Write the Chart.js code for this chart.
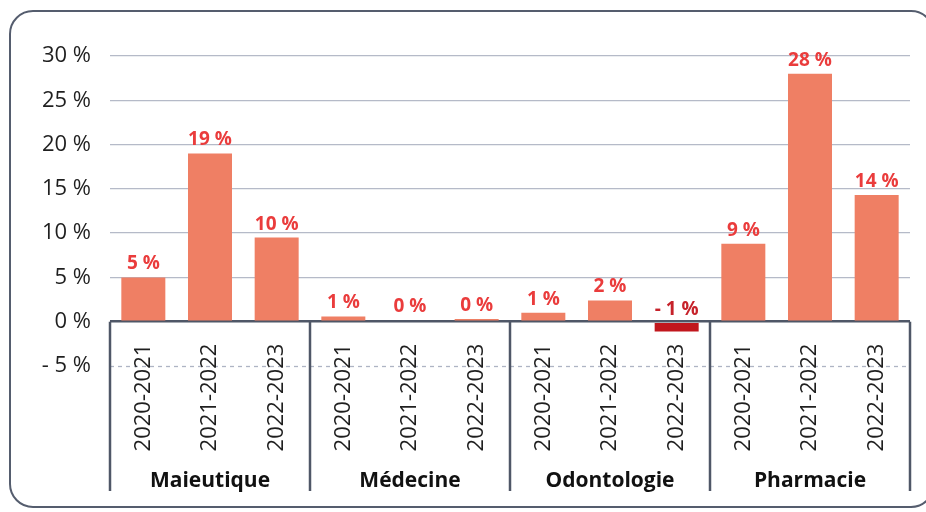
<!DOCTYPE html>
<html>
<head>
<meta charset="utf-8">
<script src="https://cdn.jsdelivr.net/npm/chart.js@4/dist/chart.umd.min.js"></script>
<style>
html, body { margin: 0; padding: 0; background: #fff; }
#wrap { position: relative; width: 926px; height: 512px; overflow: hidden; }
#cadre { position: absolute; left: 9px; top: 10px; width: 926px; height: 498px; box-sizing: border-box;
	border: 2.5px solid #555d6e; border-radius: 24px; }
canvas { position: absolute; left: 0; top: 0; }
</style>
</head>
<body>
<div id="wrap">
	<div id="cadre"></div>
	<canvas id="grafico" width="926" height="512"></canvas>
</div>
<script>
// Données (évolution en %)
const annees = ['2020-2021', '2021-2022', '2022-2023'];
const filieres = ['Maieutique', 'Médecine', 'Odontologie', 'Pharmacie'];
const maieutique = [5.0, 19.0, 9.5];
const medecine = [0.6, 0.15, 0.3];
const odontologie = [1.0, 2.4, -1.1];
const pharmacie = [8.8, 28.0, 14.3];

const etiquetas = filieres.flatMap(() => annees);
const valores = [...maieutique, ...medecine, ...odontologie, ...pharmacie];

const police = '"Open Sans", "Noto Sans", sans-serif';

function formatPct(v) {
	return v < 0 ? '- ' + (-v) + ' %' : v + ' %';
}

// Décor : pointillés à -5 %, séparateurs de filières, noms de filières, valeurs au-dessus des barres
const decor = {
	id: 'decor',
	beforeDraw(chart) {
		const { ctx, chartArea, scales: { y } } = chart;
		const yb = Math.round(y.getPixelForValue(-5)) + 0.5;
		ctx.save();
		ctx.strokeStyle = '#aeb4c4';
		ctx.lineWidth = 1.3;
		ctx.setLineDash([4, 4]);
		ctx.beginPath();
		ctx.moveTo(chartArea.left, yb);
		ctx.lineTo(chartArea.right, yb);
		ctx.stroke();
		ctx.restore();
	},
	afterDraw(chart) {
		const { ctx, scales: { x, y } } = chart;
		const y0 = y.getPixelForValue(0);
		const demi = (x.getPixelForValue(1) - x.getPixelForValue(0)) / 2;
		const basY = 491;

		ctx.save();
		ctx.strokeStyle = '#4f5767';
		ctx.lineWidth = 2.5;
		for (let k = 0; k <= filieres.length; k++) {
			const xs = k < filieres.length
				? x.getPixelForValue(k * 3) - demi
				: x.getPixelForValue(etiquetas.length - 1) + demi;
			ctx.beginPath();
			ctx.moveTo(xs, y0);
			ctx.lineTo(xs, basY);
			ctx.stroke();
		}

		ctx.fillStyle = '#111';
		ctx.font = 'bold 21px ' + police;
		ctx.textAlign = 'center';
		ctx.textBaseline = 'alphabetic';
		filieres.forEach((f, k) => {
			ctx.fillText(f, x.getPixelForValue(k * 3 + 1), 487);
		});

		const meta = chart.getDatasetMeta(0);
		ctx.font = 'bold 19px ' + police;
		meta.data.forEach((bar, i) => {
			const v = valores[i];
			const haut = Math.min(bar.y, bar.base);
			ctx.fillStyle = v < 0 ? '#c6222a' : '#ea3c3c';
			ctx.fillText(formatPct(Math.round(v)), bar.x, haut - 8);
		});
		ctx.restore();
	}
};

new Chart(document.getElementById('grafico'), {
	type: 'bar',
	data: {
		labels: etiquetas,
		datasets: [{
			data: valores,
			backgroundColor: valores.map(v => v < 0 ? '#c1171d' : '#ef7f64'),
			barPercentage: 0.66,
			categoryPercentage: 1
		}]
	},
	options: {
		responsive: false,
		animation: false,
		layout: { padding: { left: 0, right: 16, top: 56, bottom: 146 } },
		plugins: { legend: { display: false }, tooltip: { enabled: false } },
		scales: {
			x: {
				position: { y: 0 },
				grid: { display: false, drawTicks: false },
				border: { display: false },
				ticks: {
					minRotation: 90, maxRotation: 90, autoSkip: false, padding: 22,
					color: '#1f1f1f', font: { family: police, size: 22 }
				},
				afterFit: s => { s.height = 0; }
			},
			y: {
				min: -5, max: 30,
				ticks: {
					stepSize: 5, padding: 19, color: '#1f1f1f',
					font: { family: police, size: 22 },
					callback: v => formatPct(v)
				},
				grid: {
					drawTicks: false,
					color: c => c.tick.value === 0 ? '#4f5767' : (c.tick.value === -5 ? 'rgba(0,0,0,0)' : '#b5bac8'),
					lineWidth: c => c.tick.value === 0 ? 2.5 : 1.3
				},
				border: { display: false },
				afterFit: s => { s.width = 110; }
			}
		}
	},
	plugins: [decor]
});
</script>
</body>
</html>
